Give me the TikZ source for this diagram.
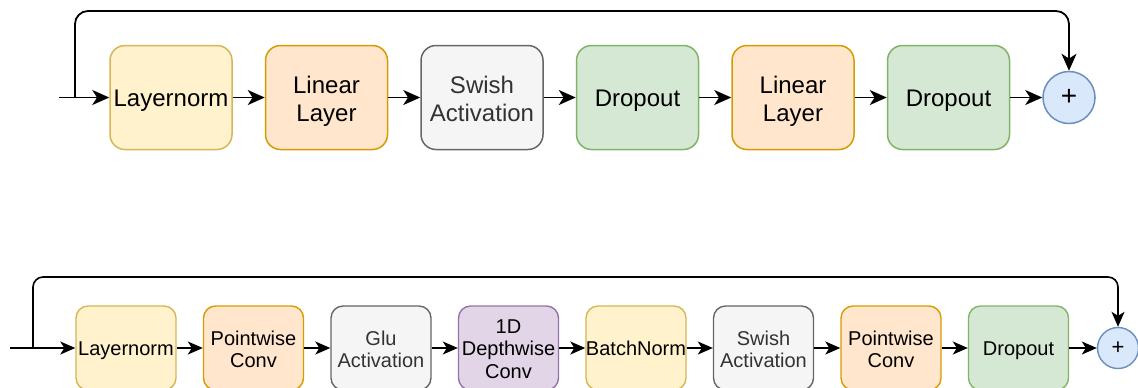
\documentclass[tikz,border=0pt]{standalone}
\usepackage{fontspec}
\setmainfont{Liberation Sans}
\usepackage{xcolor}
\usepackage{tikz}
\usetikzlibrary{arrows.meta}
\pgfdeclarelayer{nodelayer}
\pgfdeclarelayer{edgelayer}
\pgfsetlayers{nodelayer,edgelayer,main}
\definecolor{yellowfill}{HTML}{FFF2CC}
\definecolor{yellowline}{HTML}{D6B656}
\definecolor{orangefill}{HTML}{FFE6CC}
\definecolor{orangeline}{HTML}{D79B00}
\definecolor{greyfill}{HTML}{F5F5F5}
\definecolor{greyline}{HTML}{666666}
\definecolor{greytext}{HTML}{333333}
\definecolor{greenfill}{HTML}{D5E8D4}
\definecolor{greenline}{HTML}{82B366}
\definecolor{purplefill}{HTML}{E1D5E7}
\definecolor{purpleline}{HTML}{9673A6}
\definecolor{bluefill}{HTML}{DAE8FC}
\definecolor{blueline}{HTML}{6C8EBF}
\tikzset{
    none/.style = {inner sep=0pt},
    bigbox/.style = {rectangle, rounded corners=7.5pt, draw, line width=0.75pt,
        minimum width=61pt, minimum height=52pt, inner sep=0pt, align=center,
        font=\fontsize{12}{14}\selectfont, text height=8.5pt, text depth=0pt},
    bigtwo/.style = {text height=23.5pt},
    smallbox/.style = {rectangle, rounded corners=6pt, draw, line width=0.7pt,
        minimum width=50pt, minimum height=42pt, inner sep=0pt, align=center,
        font=\fontsize{10}{11.2}\selectfont, text height=7.7pt, text depth=0pt},
    smalltwo/.style = {text height=19.7pt},
    smallthree/.style = {text height=30pt},
    yellow/.style = {fill=yellowfill, draw=yellowline},
    orange/.style = {fill=orangefill, draw=orangeline},
    grey/.style = {fill=greyfill, draw=greyline, text=greytext},
    green/.style = {fill=greenfill, draw=greenline},
    purple/.style = {fill=purplefill, draw=purpleline},
    bigplus/.style = {circle, draw=blueline, fill=bluefill, line width=0.75pt,
        minimum size=26pt, inner sep=0pt, font=\fontsize{14}{16}\selectfont},
    smallplus/.style = {circle, draw=blueline, fill=bluefill, line width=0.7pt,
        minimum size=20.5pt, inner sep=0pt, font=\fontsize{11}{13}\selectfont},
    bigarrow/.style = {-{Stealth[length=8.5pt, width=7.5pt, inset=2.4pt]}, line width=0.9pt},
    smallarrow/.style = {-{Stealth[length=7.5pt, width=6.5pt, inset=2pt]}, line width=0.8pt}
}

\begin{document}
\begin{tikzpicture}[x=0.5pt, y=-0.5pt]
    \useasboundingbox (0, 0) rectangle (1138, 387);
    \begin{pgfonlayer}{nodelayer}
        % feed forward row
        \node [style=bigbox, style=yellow] (0) at (171, 97.5) {Layernorm};
        \node [style=bigbox, style=orange, style=bigtwo] (1) at (326.5, 97.5) {Linear\\Layer};
        \node [style=bigbox, style=grey, style=bigtwo] (2) at (482, 97.5) {Swish\\Activation};
        \node [style=bigbox, style=green] (3) at (637.5, 97.5) {Dropout};
        \node [style=bigbox, style=orange, style=bigtwo] (4) at (793, 97.5) {Linear\\Layer};
        \node [style=bigbox, style=green] (5) at (948.5, 97.5) {Dropout};
        \node [style=bigplus] (6) at (1069, 97.5) {+};
        \node [style=none] (16) at (59, 97.5) {};
        \node [style=none] (17) at (75, 97.5) {};
        \node [style=none] (18) at (1069, 11) {};
        % convolution row
        \node [style=smallbox, style=yellow] (7) at (126, 348) {Layernorm};
        \node [style=smallbox, style=orange, style=smalltwo] (8) at (253.5, 348) {Pointwise\\Conv};
        \node [style=smallbox, style=grey, style=smalltwo] (9) at (381, 348) {Glu\\Activation};
        \node [style=smallbox, style=purple, style=smallthree] (10) at (508.5, 348) {1D\\Depthwise\\Conv};
        \node [style=smallbox, style=yellow] (11) at (636, 348) {BatchNorm};
        \node [style=smallbox, style=grey, style=smalltwo] (12) at (763.5, 348) {Swish\\Activation};
        \node [style=smallbox, style=orange, style=smalltwo] (13) at (891, 348) {Pointwise\\Conv};
        \node [style=smallbox, style=green] (14) at (1018.5, 348) {Dropout};
        \node [style=smallplus] (15) at (1118, 348) {+};
        \node [style=none] (19) at (10, 348) {};
        \node [style=none] (20) at (33, 348) {};
        \node [style=none] (21) at (1118, 277) {};
    \end{pgfonlayer}
    \begin{pgfonlayer}{edgelayer}
        \draw [style=bigarrow] (16.center) to (0);
        \draw [style=bigarrow] (0) to (1);
        \draw [style=bigarrow] (1) to (2);
        \draw [style=bigarrow] (2) to (3);
        \draw [style=bigarrow] (3) to (4);
        \draw [style=bigarrow] (4) to (5);
        \draw [style=bigarrow] (5) to (6);
        % residual path
        \draw [style=bigarrow, rounded corners=6.5pt] (17.center) |- (18.center) -- (6);

        \draw [style=smallarrow] (19.center) to (7);
        \draw [style=smallarrow] (7) to (8);
        \draw [style=smallarrow] (8) to (9);
        \draw [style=smallarrow] (9) to (10);
        \draw [style=smallarrow] (10) to (11);
        \draw [style=smallarrow] (11) to (12);
        \draw [style=smallarrow] (12) to (13);
        \draw [style=smallarrow] (13) to (14);
        \draw [style=smallarrow] (14) to (15);
        % residual path
        \draw [style=smallarrow, rounded corners=5pt] (20.center) |- (21.center) -- (15);
    \end{pgfonlayer}
\end{tikzpicture}
\end{document}
